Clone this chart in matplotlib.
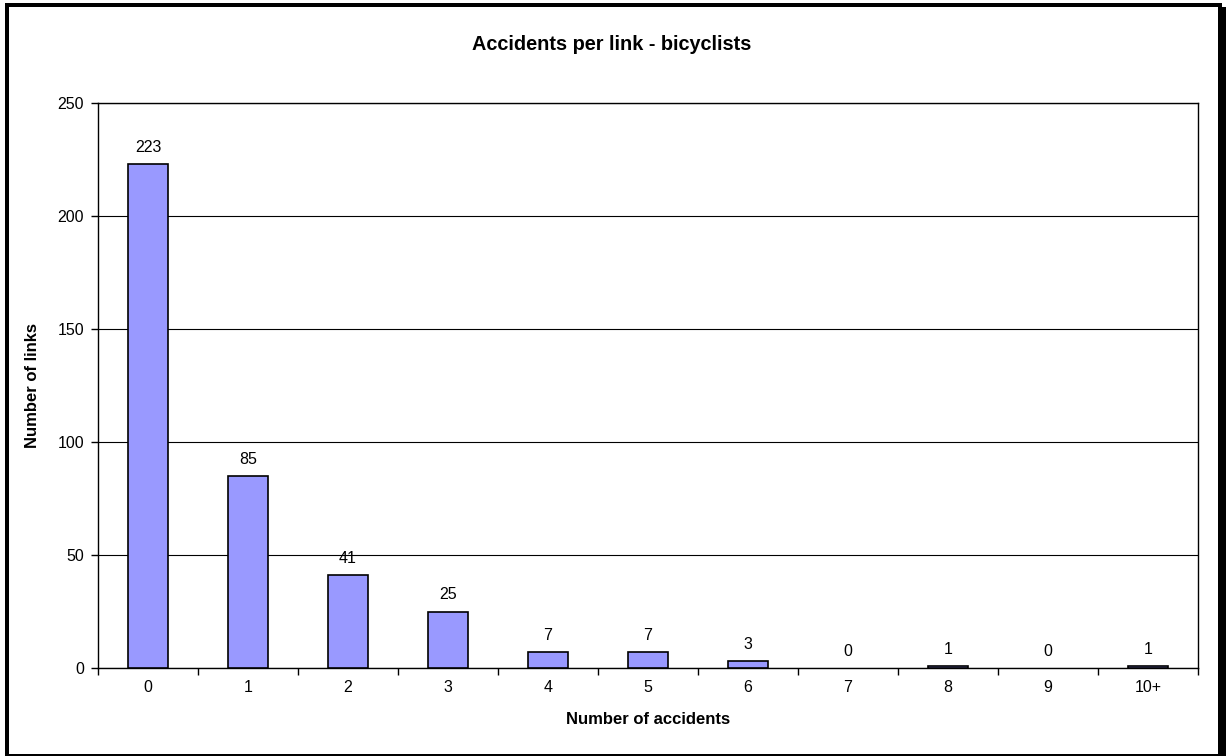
import matplotlib
matplotlib.use("Agg")
import matplotlib.pyplot as plt
from matplotlib.patches import Rectangle
import numpy as np

categories = ["0", "1", "2", "3", "4", "5", "6", "7", "8", "9", "10+"]
values = [223, 85, 41, 25, 7, 7, 3, 0, 1, 0, 1]
yticks = [0, 50, 100, 150, 200, 250]

plt.rcParams['font.family'] = ['Liberation Sans', 'DejaVu Sans']

W, H = 1226, 756
fig = plt.figure(figsize=(W / 100, H / 100), dpi=100)
ax = fig.add_axes([98 / W, 1 - 668 / H, 1100 / W, 565 / H])

x = np.arange(len(categories))
lws = [1.2 if v > 0 else 0 for v in values]
ax.bar(x, values, width=0.4, color='#9999FF', edgecolor='black', linewidth=lws, zorder=3)
for xi, v in zip(x, values):
    ax.text(xi, v + 4, str(v), ha='center', va='bottom', fontsize=11.5, zorder=4)

ax.set_xlim(-0.5, len(categories) - 0.5)
ax.set_ylim(0, 250)
ax.set_yticks(yticks)
ax.set_yticklabels([str(t) for t in yticks], fontsize=11.5)
ax.set_xticks(x)
ax.set_xticklabels(categories, fontsize=11.5)
ax.tick_params(axis='x', which='major', length=0, pad=9)
ax.set_xticks(np.arange(-0.5, len(categories), 1), minor=True)
ax.tick_params(axis='x', which='minor', length=5, width=1, direction='out')
ax.tick_params(axis='y', length=5, width=1, direction='out', pad=5)
ax.yaxis.grid(True, color='black', linewidth=0.8, zorder=0)
ax.set_axisbelow(True)
for s in ax.spines.values():
    s.set_linewidth(1.0)
    s.set_color('black')

ax.set_xlabel("Number of accidents", fontsize=12, fontweight='bold')
ax.xaxis.set_label_coords(0.5, (668 - 712) / 565)
ax.set_ylabel("Number of links", fontsize=12, fontweight='bold')
ax.yaxis.set_label_coords((40 - 98) / 1100, 0.5)
fig.text(612 / W, 1 - 50 / H, "Accidents per link - bicyclists", ha='center', va='baseline',
         fontsize=14.3, fontweight='bold')

# outer frame (pixel rectangles: x0, y0_top, x1, y1_bottom)
for (x0, y0, x1, y1) in [(5, 3, 9, 756), (5, 3, 1222, 7), (1218, 7, 1226, 756), (5, 754, 1226, 756)]:
    fig.patches.append(Rectangle((x0 / W, 1 - y1 / H), (x1 - x0) / W, (y1 - y0) / H,
                                 transform=fig.transFigure, facecolor='black', edgecolor='none'))

fig.savefig("out.png", dpi=100)
